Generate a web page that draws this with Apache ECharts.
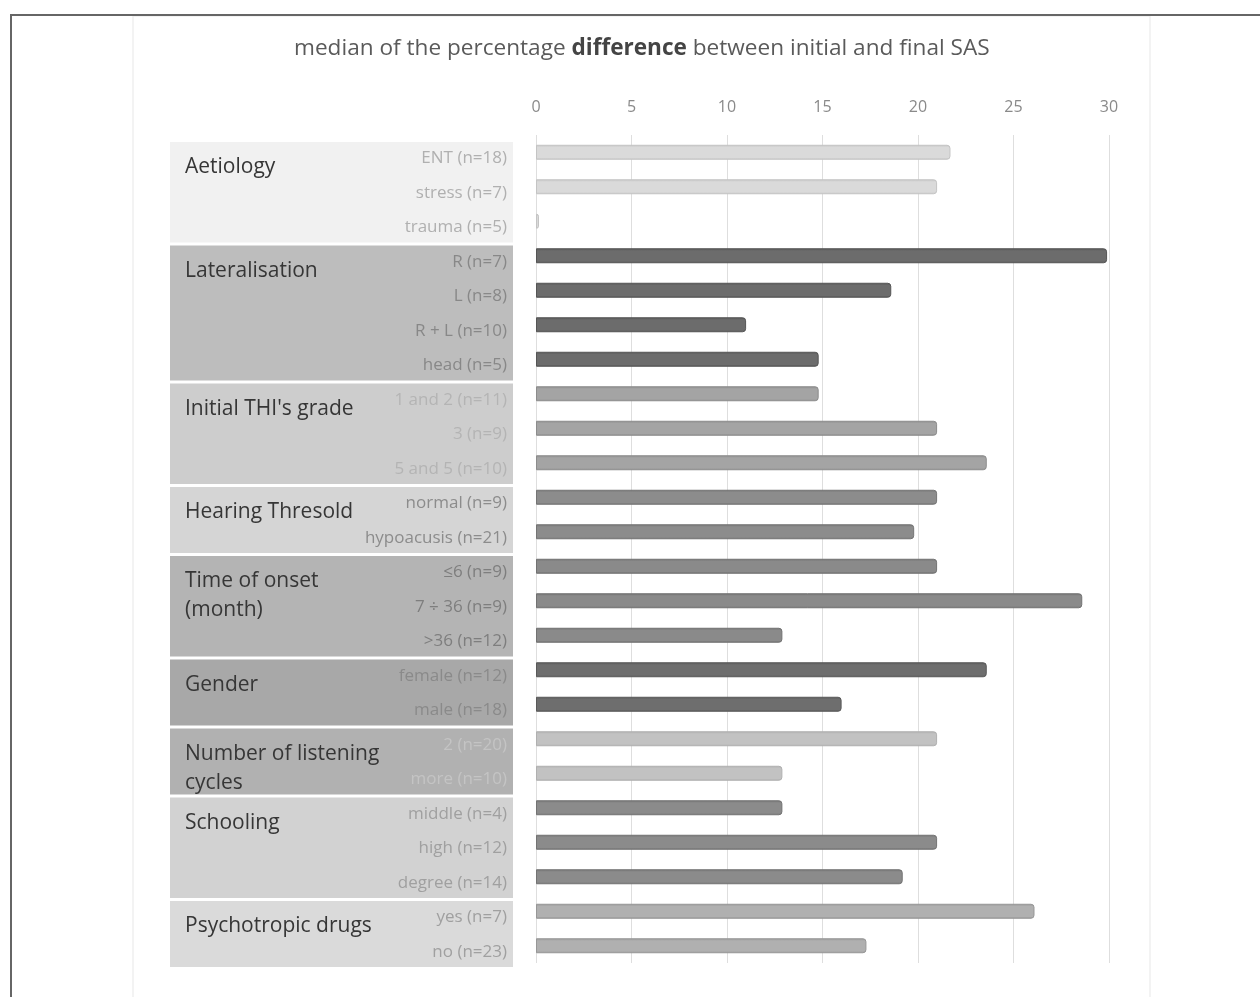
<!DOCTYPE html>
<html>
<head>
<meta charset="utf-8">
<script src="https://cdn.jsdelivr.net/npm/echarts@6/dist/echarts.min.js"></script>
<style>
  html, body { margin: 0; padding: 0; background: #ffffff; }
  #chart { width: 1260px; height: 997px; }
</style>
</head>
<body>
<div id="chart"></div>
<script>
// Subgroup labels, top to bottom
const categories = [
  'ENT (n=18)', 'stress (n=7)', 'trauma (n=5)',
  'R (n=7)', 'L (n=8)', 'R + L (n=10)', 'head (n=5)',
  '1 and 2 (n=11)', '3 (n=9)', '5 and 5 (n=10)',
  'normal (n=9)', 'hypoacusis (n=21)',
  '\u22646 (n=9)', '7 \u00f7 36 (n=9)', '>36 (n=12)',
  'female (n=12)', 'male (n=18)',
  '2 (n=20)', 'more (n=10)',
  'middle (n=4)', 'high (n=12)', 'degree (n=14)',
  'yes (n=7)', 'no (n=23)'
];

// Median % difference between initial and final SAS for each subgroup
const medianDiff = [
  21.7, 21.0, 0,
  29.9, 18.6, 11.0, 14.8,
  14.8, 21.0, 23.6,
  21.0, 19.8,
  21.0, 28.6, 12.9,
  23.6, 16.0,
  21.0, 12.9,
  12.9, 21.0, 19.2,
  26.1, 17.3
];

// Variable groups: name and how many subgroups each one holds
const groupNames = [
  'Aetiology', 'Lateralisation', "Initial THI's grade", 'Hearing Thresold',
  'Time of onset\n(month)', 'Gender', 'Number of listening\ncycles',
  'Schooling', 'Psychotropic drugs'
];
const groupSizes = [3, 4, 3, 2, 3, 2, 2, 3, 2];

// X axis ticks
const tickMin = 0, tickMax = 30, tickStep = 5;

// Per-group styling
const groupStyle = [
  { box: '#f1f1f1', bar: '#dadada', edge: '#c4c4c4', label: '#b0b0b0' },
  { box: '#bdbdbd', bar: '#6c6c6c', edge: '#555555', label: '#888888' },
  { box: '#cdcdcd', bar: '#a4a4a4', edge: '#8c8c8c', label: '#b4b4b4' },
  { box: '#d5d5d5', bar: '#8c8c8c', edge: '#747474', label: '#8c8c8c' },
  { box: '#b4b4b4', bar: '#8a8a8a', edge: '#727272', label: '#7e7e7e' },
  { box: '#a8a8a8', bar: '#6e6e6e', edge: '#595959', label: '#8a8a8a' },
  { box: '#b1b1b1', bar: '#c2c2c2', edge: '#b0b0b0', label: '#c4c4c4' },
  { box: '#d2d2d2', bar: '#8b8b8b', edge: '#737373', label: '#a0a0a0' },
  { box: '#dadada', bar: '#b0b0b0', edge: '#979797', label: '#a0a0a0' }
];

// Row index -> group index, and group ranges
const rowGroup = [];
const groupRanges = [];
groupSizes.forEach((n, g) => {
  const start = rowGroup.length;
  for (let i = 0; i < n; i++) rowGroup.push(g);
  groupRanges.push({ value: [0, start, start + n - 1, g] });
});

const barData = medianDiff.map((v, i) => {
  const s = groupStyle[rowGroup[i]];
  return {
    value: v,
    itemStyle: {
      color: {
        type: 'linear', x: 0, y: 0, x2: 0, y2: 1,
        colorStops: [
          { offset: 0, color: s.edge },
          { offset: 0.18, color: s.bar },
          { offset: 0.85, color: s.bar },
          { offset: 1, color: s.edge }
        ]
      },
      borderColor: s.edge,
      borderWidth: 1,
      borderRadius: [0, 3, 3, 0]
    }
  };
});

const FONT = '"Open Sans", "Noto Sans", sans-serif';
const chart = echarts.init(document.getElementById('chart'));

chart.setOption({
  backgroundColor: '#ffffff',
  animation: false,
  title: {
    left: 289, top: 32,
    text: '{a|median of the percentage }{b|difference}{a| between initial and final SAS}',
    textStyle: {
      fontWeight: 'normal',
      rich: {
        a: { fontSize: 22.6, color: '#5a5a5a', fontWeight: 'normal', fontFamily: FONT },
        b: { fontSize: 22.6, color: '#444444', fontWeight: 'bold', fontFamily: FONT }
      }
    }
  },
  graphic: [
    // chart area outline
    { type: 'rect', z: -10, shape: { x: 133, y: 16, width: 1017, height: 990 },
      style: { fill: '#ffffff', stroke: '#efefef', lineWidth: 1.5 } },
    // page frame
    { type: 'polyline', z: 100, shape: { points: [[11, 1000], [11, 15], [1262, 15]] },
      style: { stroke: '#666666', lineWidth: 2, fill: null } }
  ],
  grid: [
    { left: 536, right: 151, top: 135, bottom: 34 },
    { left: 170, width: 343, top: 142, bottom: 27 }
  ],
  xAxis: [
    {
      gridIndex: 0, type: 'value', position: 'top',
      min: tickMin, max: tickMax, interval: tickStep,
      axisLine: { show: false }, axisTick: { show: false },
      axisLabel: { color: '#8a8a8a', fontSize: 16, fontFamily: FONT, margin: 20 },
      splitLine: { show: true, lineStyle: { color: '#dedede', width: 1 } }
    },
    { gridIndex: 1, type: 'value', min: 0, max: 1, show: false }
  ],
  yAxis: [
    {
      gridIndex: 0, type: 'category', data: categories, inverse: true, z: 10,
      axisLine: { show: false }, axisTick: { show: false },
      axisLabel: {
        margin: 29, fontSize: 17, fontFamily: FONT,
        verticalAlign: 'top', lineHeight: 12,
        color: (val, idx) => groupStyle[rowGroup[idx]].label
      }
    },
    { gridIndex: 1, type: 'category', data: categories, inverse: true, show: false }
  ],
  series: [
    {
      type: 'bar', xAxisIndex: 0, yAxisIndex: 0,
      data: barData, barWidth: 15, barMinHeight: 3, z: 3
    },
    {
      type: 'custom', xAxisIndex: 1, yAxisIndex: 1, z: 1, silent: true,
      encode: { x: 0, y: 1 },
      data: groupRanges,
      renderItem: (params, api) => {
        const s = api.value(1), e = api.value(2), g = api.value(3);
        const band = api.size([0, 1])[1];
        const p0 = api.coord([0, s]);
        const p1 = api.coord([1, e]);
        const top = p0[1] - band / 2;
        const bottom = p1[1] + band / 2 - 3;
        return {
          type: 'group',
          children: [
            { type: 'rect',
              shape: { x: p0[0], y: top, width: p1[0] - p0[0], height: bottom - top },
              style: { fill: groupStyle[g].box } },
            { type: 'text',
              style: { text: groupNames[g], x: p0[0] + 15, y: top + 11,
                       fill: '#363636', fontSize: 21, fontFamily: FONT,
                       lineHeight: 29, verticalAlign: 'top' } }
          ]
        };
      }
    }
  ]
});
</script>
</body>
</html>
